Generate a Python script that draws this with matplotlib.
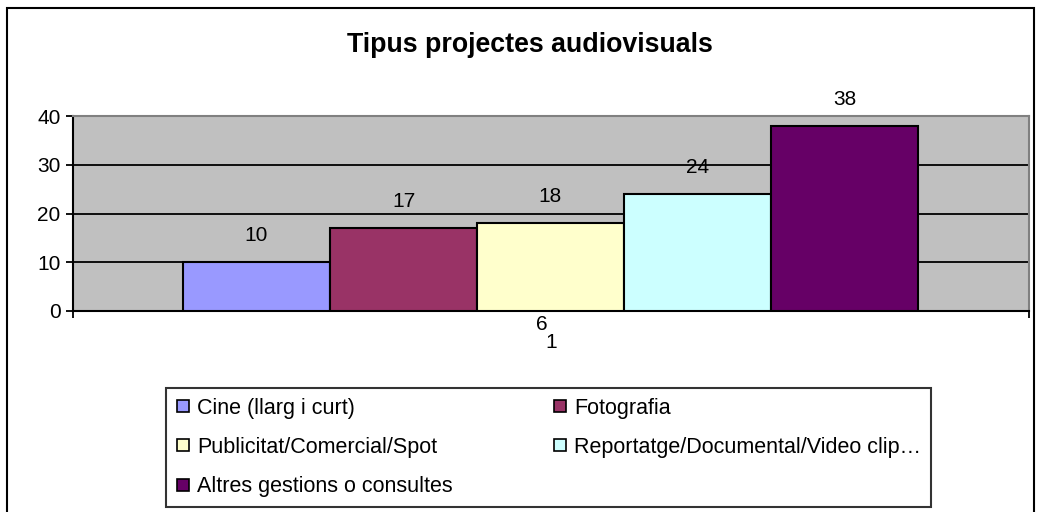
import matplotlib
matplotlib.use("Agg")
import matplotlib.pyplot as plt
from matplotlib.lines import Line2D
from matplotlib.patches import Rectangle

plt.rcParams['font.family'] = ['Liberation Sans', 'DejaVu Sans']

title = "Tipus projectes audiovisuals"
series = ["Cine (llarg i curt)", "Fotografia", "Publicitat/Comercial/Spot",
          "Reportatge/Documental/Video clip…", "Altres gestions o consultes"]
values = [10, 17, 18, 24, 38]
colors = ["#9999FF", "#993366", "#FFFFCC", "#CCFFFF", "#660066"]
category = "1"
extra_label = "6"
yticks = [0, 10, 20, 30, 40]

W, H = 1040, 512
fig = plt.figure(figsize=(W / 100, H / 100), dpi=100)
fig.patch.set_facecolor("white")

# outer chart frame
fig.patches.append(Rectangle((7 / W, -0.05), (1034 - 7) / W, (1 - 8 / H) + 0.05,
                             transform=fig.transFigure, fill=False,
                             edgecolor="black", linewidth=1.5, clip_on=False))

ax = fig.add_axes([73 / W, 1 - 311 / H, (1029 - 73) / W, (311 - 116) / H])
ax.set_facecolor("#C0C0C0")
ax.set_xlim(-0.5, 0.5)
ax.set_ylim(0, 40)

bw = 147 / 956
start = (183 - 73) / 956 - 0.5
for i, (v, c) in enumerate(zip(values, colors)):
    x = start + (i + 0.5) * bw
    ax.bar(x, v, width=bw, color=c, edgecolor="black", linewidth=1.5, zorder=3)
    ax.annotate(str(v), (x, v), xytext=(0, 19), textcoords="offset points",
                ha="center", va="center", fontsize=15, zorder=4)

for y in yticks[1:-1]:
    ax.axhline(y, color="black", linewidth=1.3, zorder=1)

ax.set_yticks(yticks)
ax.tick_params(axis="y", length=5, width=1.3, labelsize=15, pad=4)
ax.set_xticks([0])
ax.set_xticklabels([category], fontsize=15)
ax.tick_params(axis="x", length=0, pad=16)
ax.set_xticks([-0.5, 0.5], minor=True)
ax.tick_params(axis="x", which="minor", length=5, width=1.3)

for s in ["top", "right"]:
    ax.spines[s].set_color("#808080")
    ax.spines[s].set_linewidth(1.5)
for s in ["left", "bottom"]:
    ax.spines[s].set_color("black")
    ax.spines[s].set_linewidth(1.5)

ax.text(-0.0095, -0.07, extra_label, transform=ax.get_xaxis_transform(),
        ha="center", va="center", fontsize=15)

fig.text(530 / W, 1 - 45 / H, title, ha="center", va="center",
         fontsize=19.3, fontweight="bold")

order = [0, 2, 4, 1, 3]
handles = [Line2D([], [], marker="s", ls="", markersize=9, markerfacecolor=colors[i],
                  markeredgecolor="black", markeredgewidth=1.2) for i in order]
labels = [series[i] for i in order]
leg = fig.legend(handles, labels, ncol=2, mode="expand",
                 bbox_to_anchor=(166 / W, 1 - 507 / H, (931 - 166) / W, (507 - 388) / H),
                 loc="lower left", fontsize=15.5, frameon=True, fancybox=False,
                 edgecolor="black", borderpad=0.45, labelspacing=0.85,
                 handlelength=0.7, handletextpad=0.3, borderaxespad=0)
leg.get_frame().set_linewidth(1.5)

fig.savefig("out.png", dpi=100)
